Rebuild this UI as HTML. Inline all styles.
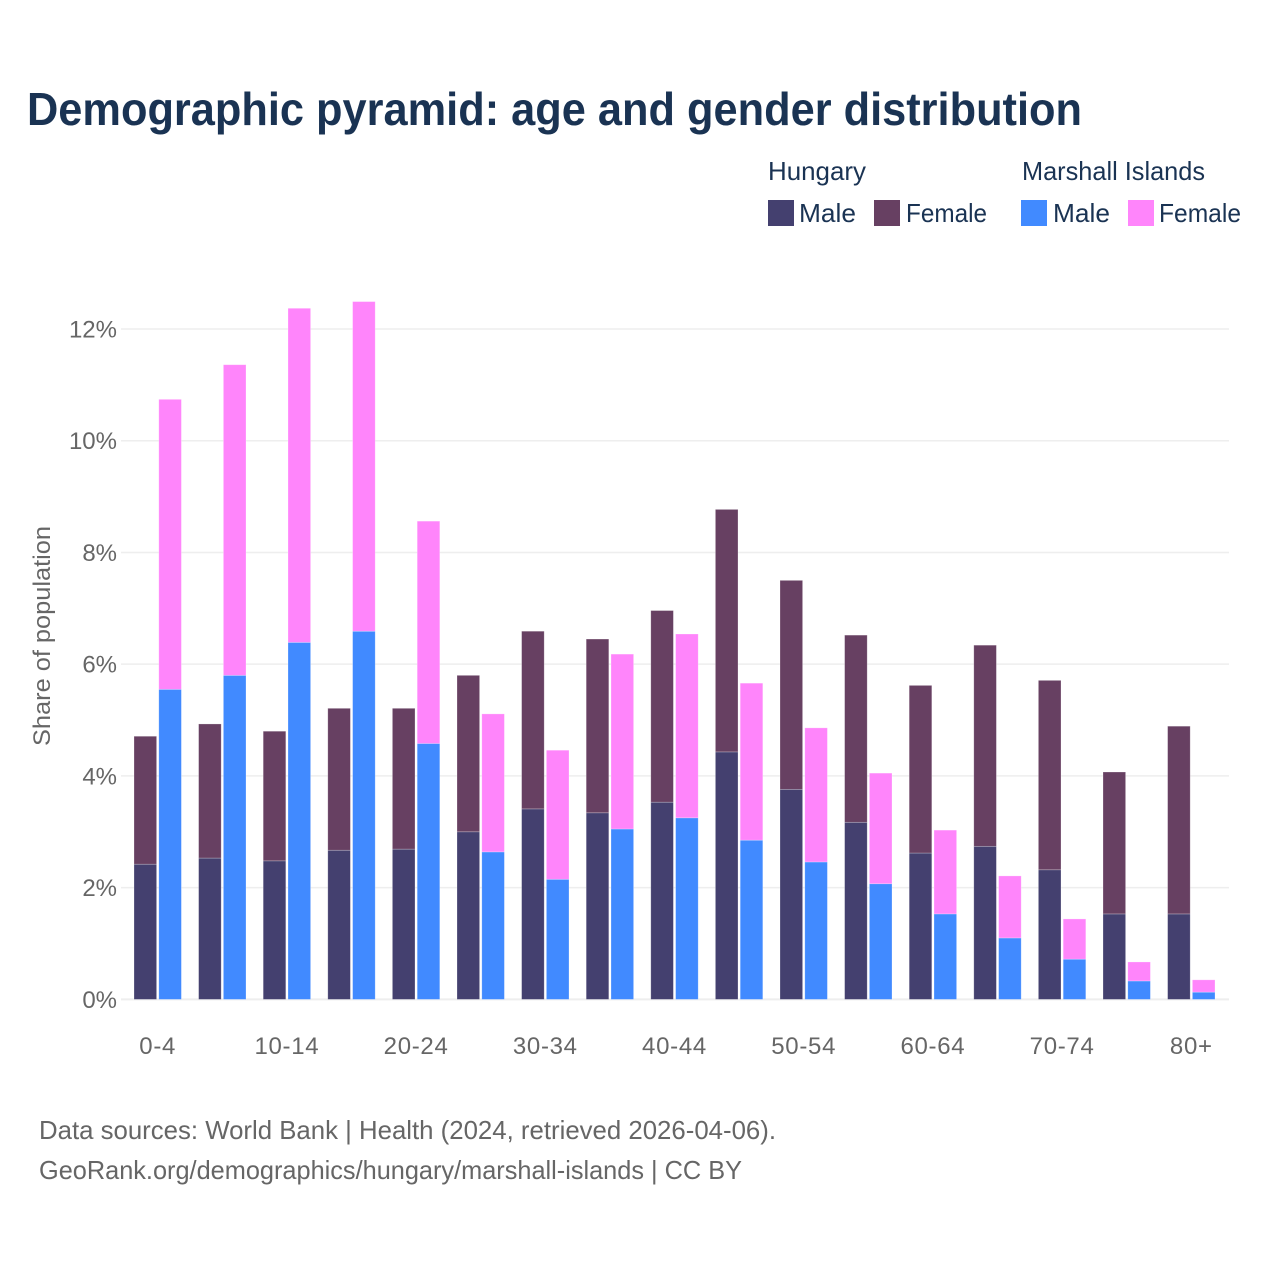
<!DOCTYPE html>
<html lang="en">
<head>
<meta charset="utf-8">
<title>Demographic pyramid</title>
<style>
html,body{margin:0;padding:0;background:#fff;width:1280px;height:1280px;overflow:hidden}
svg{display:block;font-family:"Liberation Sans",sans-serif}
</style>
</head>
<body>
<svg id="chart" width="1280" height="1280" viewBox="0 0 1280 1280" xmlns="http://www.w3.org/2000/svg">
  <rect width="1280" height="1280" fill="#fff"/>
  <text x="27" y="125" font-size="46" font-weight="700" fill="#1a3353" textLength="1055" lengthAdjust="spacingAndGlyphs">Demographic pyramid: age and gender distribution</text>
  <g font-size="26" fill="#1a3353">
    <text x="768" y="180" textLength="98" lengthAdjust="spacingAndGlyphs">Hungary</text>
    <text x="1022" y="180" textLength="183" lengthAdjust="spacingAndGlyphs">Marshall Islands</text>
    <rect x="768" y="200" width="26" height="26" fill="#44406f"/>
    <text x="799" y="222" textLength="57" lengthAdjust="spacingAndGlyphs">Male</text>
    <rect x="874" y="200" width="26" height="26" fill="#674062"/>
    <text x="906" y="222" textLength="81" lengthAdjust="spacingAndGlyphs">Female</text>
    <rect x="1021" y="200" width="26" height="26" fill="#418aff"/>
    <text x="1053" y="222" textLength="57" lengthAdjust="spacingAndGlyphs">Male</text>
    <rect x="1128" y="200" width="26" height="26" fill="#ff85fb"/>
    <text x="1159" y="222" textLength="82" lengthAdjust="spacingAndGlyphs">Female</text>
  </g>
  <g id="grid"></g>
  <g id="bars"></g>
  <g id="yticks"></g>
  <g id="xticks"></g>
  <text transform="translate(50,636) rotate(-90)" text-anchor="middle" font-size="24" fill="#666" textLength="220" lengthAdjust="spacingAndGlyphs">Share of population</text>
  <text x="39" y="1139" font-size="26" fill="#666" textLength="737" lengthAdjust="spacingAndGlyphs">Data sources: World Bank | Health (2024, retrieved 2026-04-06).</text>
  <text x="39" y="1179" font-size="26" fill="#666" textLength="703" lengthAdjust="spacingAndGlyphs">GeoRank.org/demographics/hungary/marshall-islands | CC BY</text>
</svg>
<script>
const categories = ["0-4","5-9","10-14","15-19","20-24","25-29","30-34","35-39","40-44","45-49","50-54","55-59","60-64","65-69","70-74","75-79","80+"];
const hungaryMale = [2.42,2.53,2.48,2.67,2.69,3.00,3.41,3.34,3.53,4.43,3.76,3.17,2.62,2.74,2.32,1.53,1.53];
const hungaryFemale = [2.29,2.40,2.32,2.54,2.52,2.80,3.18,3.11,3.43,4.34,3.74,3.35,3.00,3.60,3.39,2.54,3.36];
const marshallMale = [5.55,5.80,6.39,6.59,4.58,2.64,2.15,3.05,3.25,2.85,2.46,2.07,1.53,1.10,0.72,0.33,0.13];
const marshallFemale = [5.19,5.56,5.98,5.90,3.98,2.47,2.31,3.13,3.29,2.81,2.40,1.98,1.50,1.11,0.72,0.34,0.22];
const yTickValues = [0,2,4,6,8,10,12];
const xTickLabels = ["0-4","10-14","20-24","30-34","40-44","50-54","60-64","70-74","80+"];

const NS = "http://www.w3.org/2000/svg";
const yScale = v => 999.4 - v * 55.87;
const groupLeft = i => 134 + i * 64.6;
const barWidth = 22.6;
const pairGap = 2.2;

const grid = document.getElementById("grid");
const yticks = document.getElementById("yticks");
yTickValues.forEach(v => {
  const line = document.createElementNS(NS, "line");
  
  
  line.setAttribute("x1", 121);
  line.setAttribute("x2", 1229);
  line.setAttribute("y1", yScale(v));
  line.setAttribute("y2", yScale(v));
  line.setAttribute("stroke", "#eeeeee");
  line.setAttribute("stroke-width", v === 0 ? 2 : 1.5);
  grid.appendChild(line);

  const t = document.createElementNS(NS, "text");
  
  
  t.setAttribute("x", 117);
  t.setAttribute("y", yScale(v) + 8.5);
  t.setAttribute("text-anchor", "end");
  t.setAttribute("font-size", 24);
  t.setAttribute("fill", "#666");
  t.textContent = v + "%";
  yticks.appendChild(t);
});

const bars = document.getElementById("bars");
function addBar(x, base, value, fill) {
  const r = document.createElementNS(NS, "rect");
  
  
  r.setAttribute("x", x);
  r.setAttribute("y", yScale(base + value));
  r.setAttribute("width", barWidth);
  r.setAttribute("height", yScale(base) - yScale(base + value));
  r.setAttribute("fill", fill);
  r.setAttribute("stroke", "#ffffff");
  r.setAttribute("stroke-opacity", "0.35");
  r.setAttribute("stroke-width", "0.7");
  bars.appendChild(r);
}
categories.forEach((c, i) => {
  const x1 = groupLeft(i);
  const x2 = x1 + barWidth + pairGap;
  addBar(x1, 0, hungaryMale[i], "#44406f");
  addBar(x1, hungaryMale[i], hungaryFemale[i], "#674062");
  addBar(x2, 0, marshallMale[i], "#418aff");
  addBar(x2, marshallMale[i], marshallFemale[i], "#ff85fb");
});

const xticks = document.getElementById("xticks");
xTickLabels.forEach(label => {
  const i = categories.indexOf(label);
  const t = document.createElementNS(NS, "text");
  
  
  t.setAttribute("x", groupLeft(i) + barWidth + pairGap / 2);
  t.setAttribute("y", 1054);
  t.setAttribute("text-anchor", "middle");
  t.setAttribute("font-size", 24);
  t.setAttribute("letter-spacing", "0.7");
  t.setAttribute("fill", "#666");
  t.textContent = label;
  xticks.appendChild(t);
});
</script>
</body>
</html>
